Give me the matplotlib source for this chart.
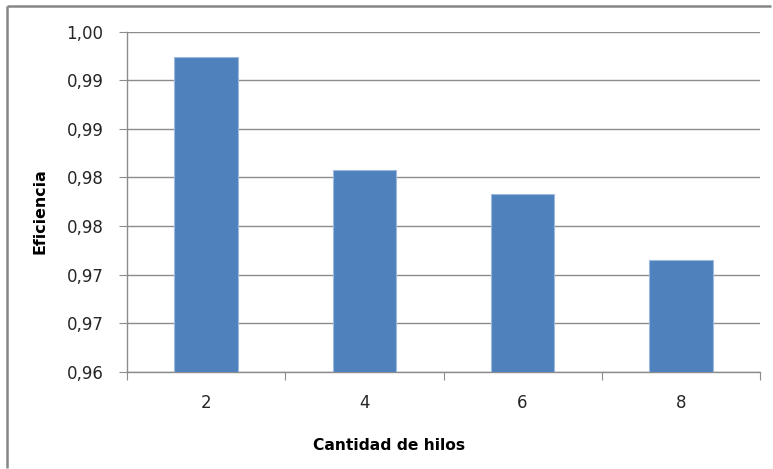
import matplotlib.pyplot as plt
from matplotlib.lines import Line2D
import numpy as np

# Eficiencia segun cantidad de hilos
hilos = ["2", "4", "6", "8"]
eficiencia = [0.9974, 0.9858, 0.9833, 0.9765]

# escala del eje y (Excel redondea las etiquetas a 2 decimales)
y_ticks = [0.965, 0.970, 0.975, 0.980, 0.985, 0.990, 0.995, 1.000]
y_labels = ["0,96", "0,97", "0,97", "0,98", "0,98", "0,99", "0,99", "1,00"]

plt.rcParams['font.family'] = ['DejaVu Sans']

fig = plt.figure(figsize=(7.73, 4.69), dpi=100)
ax = fig.add_axes([127 / 773, 1 - 371.7 / 469, 633 / 773, 340 / 469])

x = np.arange(len(hilos))
ax.bar(x, eficiencia, width=0.4, color="#4F81BD", edgecolor="#9DB9DD",
       linewidth=0.8, zorder=3)

ax.set_ylim(y_ticks[0], y_ticks[-1])
ax.set_xlim(-0.5, len(hilos) - 0.5)
ax.set_yticks(y_ticks)
ax.set_yticklabels(y_labels, fontsize=12, color="#262626")
ax.yaxis.grid(True, color="#8C8C8C", linewidth=1.0, zorder=0)

# ticks de categoria entre barras, etiquetas al centro
ax.set_xticks(np.arange(len(hilos) + 1) - 0.5)
ax.set_xticklabels([])
ax.set_xticks(x, minor=True)
ax.set_xticklabels(hilos, minor=True, fontsize=12, color="#262626")
ax.tick_params(axis="x", which="major", length=6, color="#8C8C8C")
ax.tick_params(axis="x", which="minor", length=0, pad=16)
ax.tick_params(axis="y", length=6, color="#8C8C8C", pad=11)

for s in ["top", "right"]:
    ax.spines[s].set_visible(False)
for s in ["left", "bottom"]:
    ax.spines[s].set_color("#8C8C8C")
    ax.spines[s].set_linewidth(1.0)

fig.text(389 / 773, 1 - 445 / 469, "Cantidad de hilos", ha="center", va="center",
         fontsize=11.2, fontweight="bold", color="#000000")
fig.text(40 / 773, 1 - 211 / 469, "Eficiencia", ha="center", va="center",
         rotation=90, fontsize=11.4, fontweight="bold", color="#000000")

# borde del area del grafico (solo se ven arriba e izquierda)
bx, by = 7.5 / 773, 1 - 6.5 / 469
fig.add_artist(Line2D([bx, 0.998], [by, by], transform=fig.transFigure,
                      color="#868686", linewidth=1.8, solid_capstyle="butt"))
fig.add_artist(Line2D([bx, bx], [0.002, by], transform=fig.transFigure,
                      color="#868686", linewidth=1.8, solid_capstyle="butt"))

fig.savefig("out.png", dpi=100)
